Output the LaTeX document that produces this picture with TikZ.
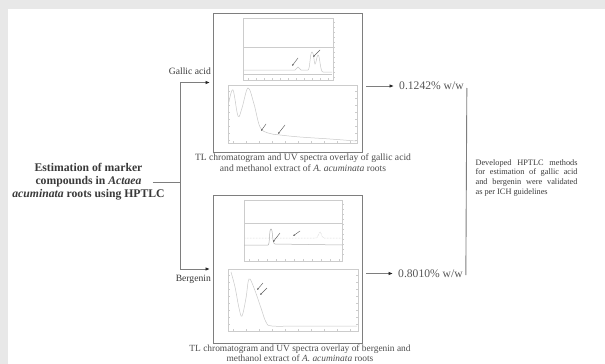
\documentclass[tikz,border=0pt]{standalone}
\usepackage{fontspec}
\setmainfont{Liberation Serif}
\usetikzlibrary{positioning,arrows.meta,calc}
\usepackage{xcolor}
\definecolor{pagegray}{HTML}{E8E8E8}
\definecolor{inkgray}{HTML}{3A3A3A}
\definecolor{rulegray}{HTML}{7E7E7E}
\definecolor{plotgray}{HTML}{CCCCCC}

\begin{document}
\begin{tikzpicture}[
        x=1pt, y=-1pt,
        txt/.style={inner sep=0pt, text=inkgray},
        title/.style={txt, align=center, font=\fontsize{11.7}{13}\selectfont\bfseries},
        lbl/.style={txt, font=\fontsize{9.6}{11}\selectfont},
        caption/.style={txt, align=center, font=\fontsize{9.6}{10.8}\selectfont, text=inkgray!90},
        val/.style={txt, font=\fontsize{11.6}{13}\selectfont, text=inkgray!85},
        concl/.style={txt, anchor=west, text width=102pt, align=justify, font=\fontsize{8.3}{9.6}\selectfont},
        panel/.style={draw=rulegray, line width=1pt, minimum width=149pt, inner sep=0pt},
        line/.style={draw=rulegray, line width=0.9pt},
        arr/.style={line, -{Latex[length=4.5pt, width=3.6pt, color=black!85]}},
        plotframe/.style={draw=plotgray, line width=0.4pt},
        trace/.style={draw=gray!42, line width=0.5pt},
        pkarr/.style={-{Latex[length=2pt, width=1.8pt]}, line width=0.45pt, draw=gray!75!black}
    ]
        % page and margins
        \fill[pagegray] (0,0) rectangle (605,364);
        \fill[white] (8,9) rectangle (605,364);
        \useasboundingbox (0,0) rectangle (605,364);

        % Topic on the left
        \node[title] (title) at (88.5,182) {Estimation of marker\\compounds in \textit{Actaea}\\\textit{acuminata} roots using HPTLC};

        % Chromatogram panels
        \node[panel, minimum height=139pt] (gapanel) at (288,82.5) {};
        \node[panel, minimum height=148pt, below=42pt of gapanel] (bgpanel) {};

        \node[lbl, above left=8pt and 2pt of gapanel.west] (galabel) {Gallic acid};
        \node[lbl, below left=6pt and 2pt of bgpanel.west] (bglabel) {Bergenin};

        \node[caption, below=1.5pt of gapanel, xshift=15pt] (gacap) {TL chromatogram and UV spectra overlay of gallic acid\\and methanol extract of \textit{A. acuminata} roots};
        \node[caption, below=1.5pt of bgpanel, xshift=12pt, font=\fontsize{9.4}{9.8}\selectfont] (bgcap) {TL chromatogram and UV spectra overlay of bergenin and\\methanol extract of \textit{A. acuminata} roots};

        % Contents
        \node[val, anchor=west] (gaval) at ([xshift=36pt, yshift=-3.5pt]gapanel.east) {0.1242\% w/w};
        \node[val, anchor=west] (bgval) at ([xshift=35pt, yshift=-4.5pt]bgpanel.east) {0.8010\% w/w};

        % Bracket and conclusion
        \coordinate (brtop) at ([xshift=3pt, yshift=-2pt]gaval.east);
        \coordinate (brbot) at ([xshift=3pt, yshift=-1.5pt]bgval.east);
        \coordinate (join) at ($(brtop)!0.48!(brbot)$);
        \node[concl, right=9pt of join] (concl) {Developed HPTLC methods\linebreak for estimation of gallic acid\linebreak and bergenin were validated\linebreak as per ICH guidelines};

        % Connectors
        \coordinate (fork) at (180,182);
        \draw[line] ([xshift=-12pt]title.east) -- (fork);
        \draw[arr, shorten >=3pt] (fork) |- (gapanel.west);
        \draw[arr, shorten >=3pt] (fork) |- (bgpanel.west);
        \draw[arr, shorten <=3pt, shorten >=5pt] (gapanel.east |- gaval.west) -- (gaval.west);
        \draw[arr, shorten <=3pt, shorten >=5pt] (bgpanel.east |- bgval.west) -- (bgval.west);
        \draw[line] (brtop) -- (brbot);
        \draw[line] (join) -- ([xshift=-9pt]concl.west |- join);

        % Gallic acid: TL chromatogram
        \draw[plotframe] (243,18) rectangle (333,80);
        \draw[plotframe] (243,47) -- (333,47);
        \draw[trace] (244,70) -- (295,70) -- (298,67) -- (301,70) -- (308,70)
            .. controls (310,70) and (310,52) .. (312,52)
            .. controls (314,52) and (314,64) .. (315,64)
            .. controls (316,64) and (317,55) .. (318,55)
            .. controls (320,55) and (320,72) .. (323,72) -- (332,72);
        \draw[trace] (244,74) -- (332,74);
        \foreach \t in {248,256,...,328} {\draw[plotgray] (\t,80) -- (\t,78);}
        \foreach \t in {22,27,...,77} {\draw[plotgray] (333,\t) -- (335,\t);}
        \draw[pkarr] (298,58) -- (292,66);
        \draw[pkarr] (320,50) -- (313,57);

        % Gallic acid: UV spectra
        \draw[plotframe] (228,85) rectangle (357,143);
        \draw[trace] plot[smooth, tension=0.6] coordinates {(229,102) (233,90) (238,116) (242,108) (248,88) (254,104) (260,127) (268,133) (280,135) (300,137) (330,139) (356,141)};
        \foreach \t in {233,246,...,350} {\draw[plotgray] (\t,143) -- (\t,141);}
        \foreach \t in {91,98,...,140} {\draw[plotgray] (228,\t) -- (230,\t); \draw[plotgray] (357,\t) -- (355,\t);}
        \draw[pkarr] (266,124) -- (261,131);
        \draw[pkarr] (285,125) -- (278,134);

        % Bergenin: TL chromatogram
        \draw[plotframe] (244,200) rectangle (342,261);
        \draw[plotframe] (244,223) -- (342,223);
        \draw[trace, draw=gray!60] (244,245) -- (268,245)
            .. controls (270,245) and (269,229) .. (271,229)
            .. controls (273,229) and (272,244) .. (275,244) -- (342,245);
        \draw[trace, densely dotted] (244,238) -- (316,238) .. controls (318,238) and (319,232) .. (320,232) .. controls (321,232) and (322,238) .. (324,238) -- (342,238);
        \foreach \t in {249,258,...,340} {\draw[plotgray] (\t,261) -- (\t,259);}
        \foreach \t in {204,209,...,258} {\draw[plotgray] (342,\t) -- (344,\t);}
        \draw[pkarr] (280,233) -- (273,242);
        \draw[pkarr] (300,231) -- (293,236);

        % Bergenin: UV spectra
        \draw[plotframe] (228,269) rectangle (358,331);
        \draw[trace] plot[smooth, tension=0.6] coordinates {(231,272) (235,287) (239,308) (242,316) (246,298) (249,279) (254,288) (261,308) (266,322) (272,326) (300,326) (357,326)};
        \foreach \t in {233,246,...,350} {\draw[plotgray] (\t,331) -- (\t,329);}
        \foreach \t in {275,282,...,328} {\draw[plotgray] (228,\t) -- (230,\t); \draw[plotgray] (358,\t) -- (356,\t);}
        \draw[pkarr] (263,283) -- (257,290);
        \draw[pkarr] (267,288) -- (260,295);
    \end{tikzpicture}
\end{document}
